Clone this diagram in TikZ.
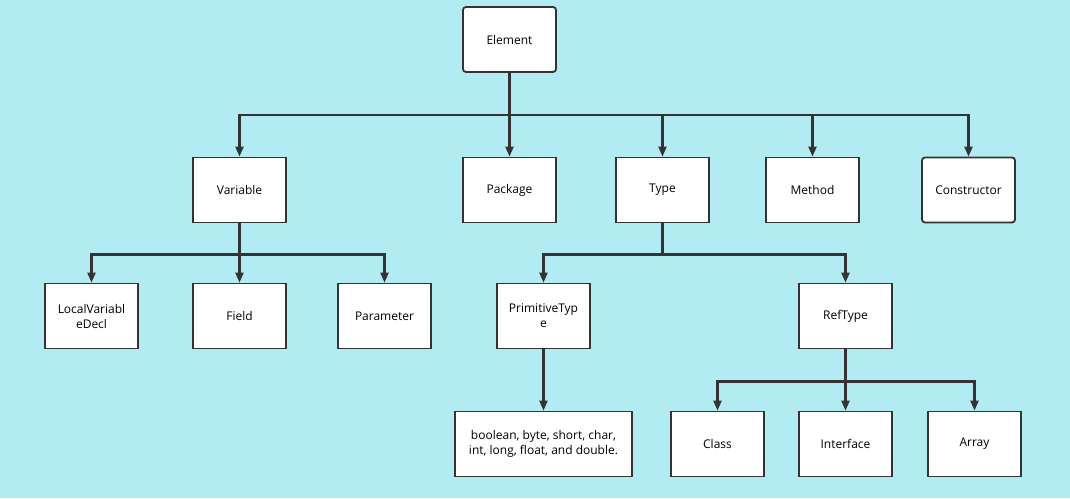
\documentclass[tikz,border=0pt]{standalone}
\usepackage{fontspec}
\setmainfont{Open Sans}
\usetikzlibrary{positioning,arrows.meta}
\definecolor{bgcyan}{HTML}{B3EBF2}
\definecolor{linegray}{HTML}{333333}

\tikzset{
  box/.style={draw=linegray,line width=1.8pt,fill=white,minimum width=93pt,
    minimum height=65pt,inner sep=2pt,align=center,font=\fontsize{12}{15}\selectfont},
  roundbox/.style={box,rounded corners=3pt},
  link/.style={draw=linegray,line width=2.2pt,-{Triangle[length=10pt,width=8pt]}},
}

\begin{document}
\begin{tikzpicture}[x=1pt,y=-1pt]

  \useasboundingbox [fill=bgcyan] (0,0) rectangle (1070,498);

  % Root
  \node [roundbox] (element) at (509.5,39.5) {Element};

  % Second row
  \node [box] (variable) at (239.5,190) {Variable};
  \node [box] (package) at (509.5,190) {Package};
  \node [box] (type) at (662.5,190) {Type};
  \node [box] (method) at (812.5,190) {Method};
  \node [roundbox] (constructor) at (968.5,190) {Constructor};

  % Third row
  \node [box] (local) at (91.5,316) {LocalVariabl\\eDecl};
  \node [box] (field) at (239.5,316) {Field};
  \node [box] (parameter) at (384.5,316) {Parameter};
  \node [box] (primitive) at (543.5,316) {PrimitiveTyp\\e};
  \node [box] (reftype) at (845.5,316) {RefType};

  % Fourth row
  \node [box,minimum width=177pt] (basic) at (543.5,444) {boolean, byte, short, char,\\int, long, float, and double.};
  \node [box] (class) at (717.5,444) {Class};
  \node [box] (interface) at (845.5,444) {Interface};
  \node [box] (array) at (974.5,444) {Array};

  % Element branches
  \foreach \n in {variable,package,type,method,constructor}
    \draw [link] (element.south) -- ++(0,42) -| (\n.north);

  % Variable branches
  \foreach \n in {local,field,parameter}
    \draw [link] (variable.south) -- ++(0,31) -| (\n.north);

  % Type branches
  \foreach \n in {primitive,reftype}
    \draw [link] (type.south) -- ++(0,31) -| (\n.north);

  % Primitive values
  \draw [link] (primitive) -- (basic);

  % RefType branches
  \foreach \n in {class,interface,array}
    \draw [link] (reftype.south) -- ++(0,32) -| (\n.north);

\end{tikzpicture}
\end{document}
